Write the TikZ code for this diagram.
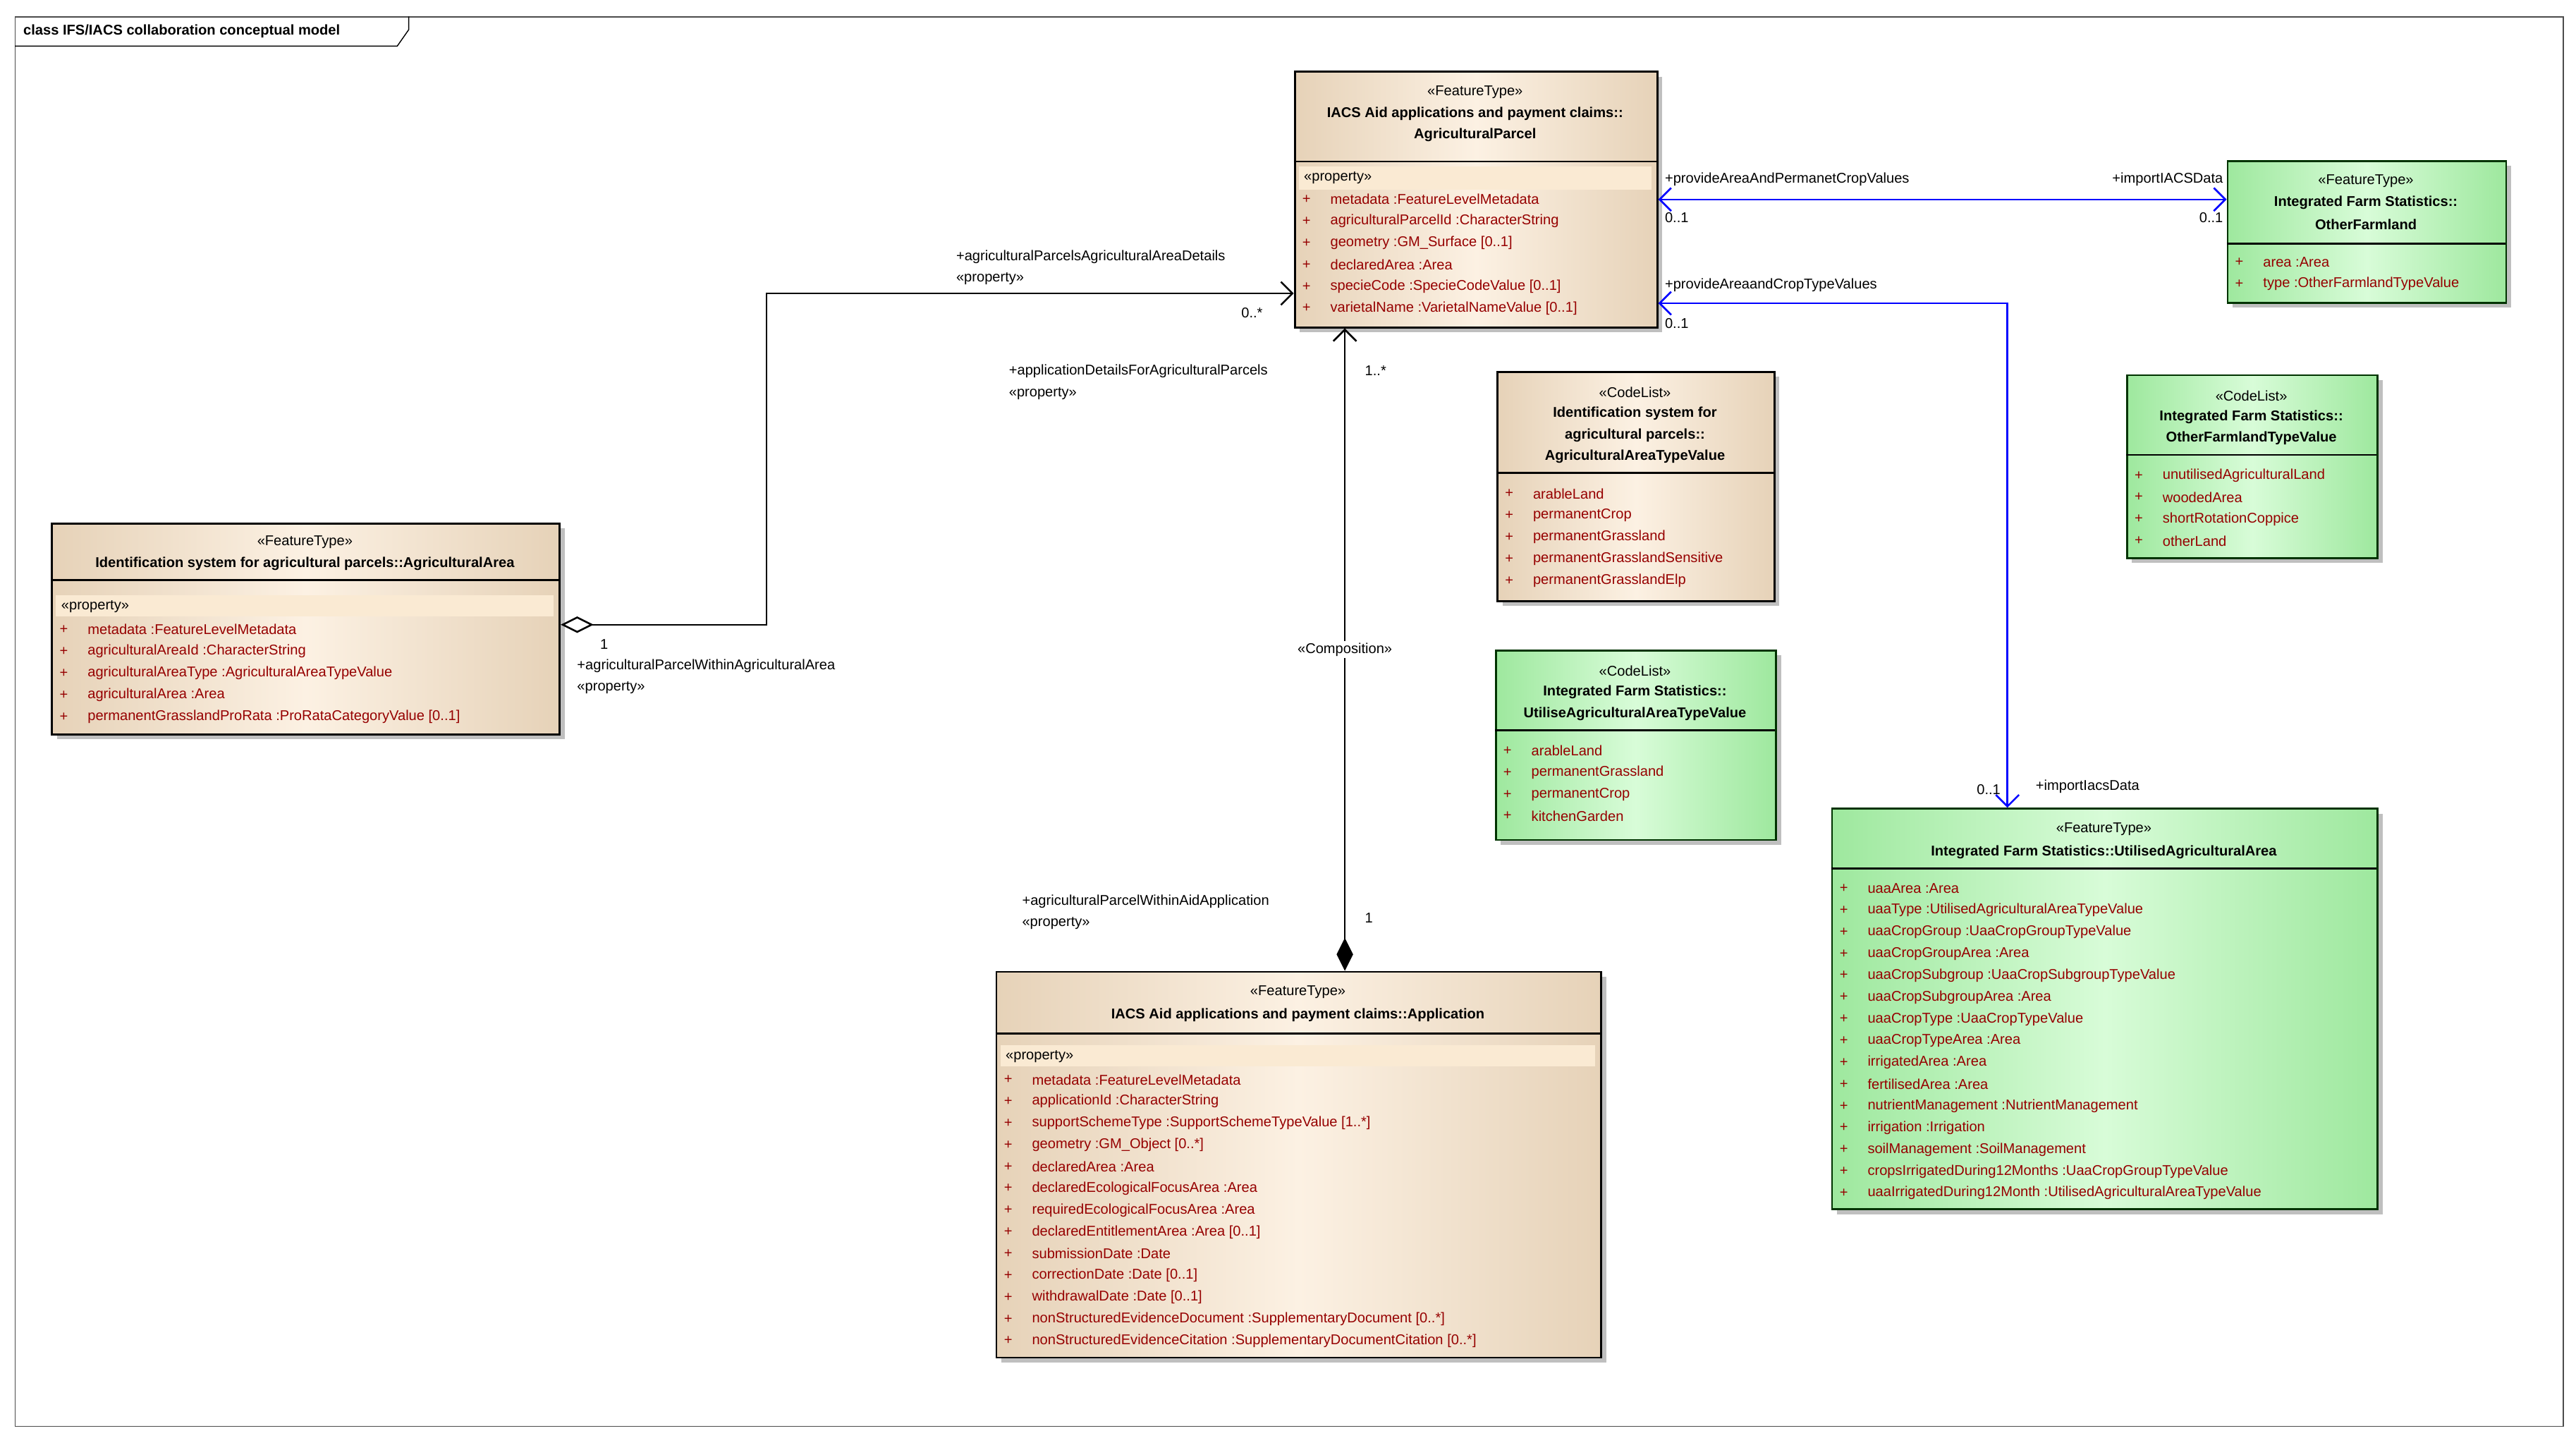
\documentclass[tikz,border=0pt]{standalone}
\usepackage{fontspec}
\setmainfont{Liberation Sans}
\usetikzlibrary{arrows.meta,shadows}
\definecolor{tanA}{HTML}{E6D2B8}
\definecolor{tanB}{HTML}{FCF1E3}
\definecolor{grA}{HTML}{9EE89E}
\definecolor{grB}{HTML}{D8FCD8}
\definecolor{attrc}{HTML}{960000}
\definecolor{band}{HTML}{FAEAD3}
\definecolor{blu}{HTML}{0000FF}
\tikzset{
 cls/.style={draw, line width=1.2pt, anchor=north west, inner sep=0pt,
   drop shadow={shadow xshift=3pt,shadow yshift=-3pt,fill=black!25,opacity=1}},
 tan/.style={cls, left color=tanA, right color=tanA, middle color=tanB},
 grn/.style={cls, left color=grA, right color=grA, middle color=grB, draw=black!80!green},
 txt/.style={font=\fontsize{8.6}{10}\selectfont, inner sep=0pt},
 lt/.style={txt, anchor=west},
 ct/.style={txt, anchor=center},
 bt/.style={txt, anchor=center, font=\fontsize{8.6}{10}\selectfont\bfseries},
 attr/.style={lt, text=attrc},
 sep/.style={line width=1.2pt},
 conn/.style={line width=1.1pt},
 bconn/.style={line width=1.1pt, draw=blu},
 vee/.tip={Straight Barb[length=7pt,width=14pt,line width=1.1pt]},
}
\newcommand\umlrows[3]{%
 \foreach \t [count=\i from 0] in {#3} {%
  \node[attr] at (#1+5, #2+\i*13.2) {+};
  \node[attr] at (#1+22, #2+\i*13.2) {\t};}}
\begin{document}
\begin{tikzpicture}[x=1pt,y=-1pt]
\useasboundingbox (0,0) rectangle (1563,872);
\fill[white] (0,0) rectangle (1563,872);
% frame
\node[draw=black!70, line width=0.6pt, anchor=north west, minimum width=1546pt, minimum height=855pt, inner sep=0] (frame) at (9,10) {};
\draw[line width=0.6pt] (9,28) -- (241,28) -- (248,18) -- (248,10);
\node[lt, font=\fontsize{8.6}{10}\selectfont\bfseries] (ftitle) at (14,19) {class IFS/IACS collaboration conceptual model};

% AgriculturalParcel
\node[tan, minimum width=220pt, minimum height=155pt] (ap) at (785,43) {};
\draw[sep] (785,98) -- (1005,98);
\fill[band] (788,101) rectangle (1002,115);
\node[ct] at (895,56) {«FeatureType»};
\node[bt] at (895,69) {IACS Aid applications and payment claims::};
\node[bt] at (895,82) {AgriculturalParcel};
\node[lt] at (791,108) {«property»};
\umlrows{785}{121}{metadata  :FeatureLevelMetadata, agriculturalParcelId  :CharacterString, geometry  :GM\_Surface [0..1], declaredArea  :Area, specieCode  :SpecieCodeValue [0..1], varietalName  :VarietalNameValue [0..1]}

% OtherFarmland
\node[grn, minimum width=169pt, minimum height=86pt] (of) at (1351,97) {};
\draw[sep] (1351,148) -- (1520,148);
\node[ct] at (1435.5,110) {«FeatureType»};
\node[bt] at (1435.5,123) {Integrated Farm Statistics::};
\node[bt] at (1435.5,136) {OtherFarmland};
\umlrows{1351}{159}{area  :Area, type  :OtherFarmlandTypeValue}

% AgriculturalArea
\node[tan, minimum width=308pt, minimum height=128pt] (aa) at (31,317) {};
\draw[sep] (31,352) -- (339,352);
\fill[band] (34,361) rectangle (336,374);
\node[ct] at (185,329) {«FeatureType»};
\node[bt] at (185,342) {Identification system for agricultural parcels::AgriculturalArea};
\node[lt] at (37,368) {«property»};
\umlrows{31}{382}{metadata  :FeatureLevelMetadata, agriculturalAreaId  :CharacterString, agriculturalAreaType  :AgriculturalAreaTypeValue, agriculturalArea  :Area, permanentGrasslandProRata  :ProRataCategoryValue [0..1]}

% AgriculturalAreaTypeValue
\node[tan, minimum width=168pt, minimum height=139pt] (aat) at (908,225) {};
\draw[sep] (908,287) -- (1076,287);
\node[ct] at (992,238) {«CodeList»};
\node[bt] at (992,251) {Identification system for};
\node[bt] at (992,264) {agricultural parcels::};
\node[bt] at (992,277) {AgriculturalAreaTypeValue};
\umlrows{908}{299.5}{arableLand, permanentCrop, permanentGrassland, permanentGrasslandSensitive, permanentGrasslandElp}

% OtherFarmlandTypeValue
\node[grn, minimum width=152pt, minimum height=111pt] (oft) at (1290,227) {};
\draw[sep] (1290,276) -- (1442,276);
\node[ct] at (1366,240) {«CodeList»};
\node[bt] at (1366,253) {Integrated Farm Statistics::};
\node[bt] at (1366,266) {OtherFarmlandTypeValue};
\umlrows{1290}{288.5}{unutilisedAgriculturalLand, woodedArea, shortRotationCoppice, otherLand}

% UtiliseAgriculturalAreaTypeValue
\node[grn, minimum width=170pt, minimum height=115pt] (uat) at (907,394) {};
\draw[sep] (907,443) -- (1077,443);
\node[ct] at (992,407) {«CodeList»};
\node[bt] at (992,420) {Integrated Farm Statistics::};
\node[bt] at (992,433) {UtiliseAgriculturalAreaTypeValue};
\umlrows{907}{455.5}{arableLand, permanentGrassland, permanentCrop, kitchenGarden}

% UtilisedAgriculturalArea
\node[grn, minimum width=331pt, minimum height=243pt] (uaa) at (1111,490) {};
\draw[sep] (1111,527) -- (1442,527);
\node[ct] at (1276.5,503) {«FeatureType»};
\node[bt] at (1276.5,517) {Integrated Farm Statistics::UtilisedAgriculturalArea};
\umlrows{1111}{539}{uaaArea  :Area, uaaType  :UtilisedAgriculturalAreaTypeValue, uaaCropGroup  :UaaCropGroupTypeValue, uaaCropGroupArea  :Area, uaaCropSubgroup  :UaaCropSubgroupTypeValue, uaaCropSubgroupArea  :Area, uaaCropType  :UaaCropTypeValue, uaaCropTypeArea  :Area, irrigatedArea  :Area, fertilisedArea  :Area, nutrientManagement  :NutrientManagement, irrigation  :Irrigation, soilManagement  :SoilManagement, cropsIrrigatedDuring12Months  :UaaCropGroupTypeValue, uaaIrrigatedDuring12Month  :UtilisedAgriculturalAreaTypeValue}

% Application
\node[tan, minimum width=367pt, minimum height=234pt] (app) at (604,589) {};
\draw[sep] (604,627) -- (971,627);
\fill[band] (607,634) rectangle (968,647);
\node[ct] at (787.5,602) {«FeatureType»};
\node[bt] at (787.5,616) {IACS Aid applications and payment claims::Application};
\node[lt] at (610,641) {«property»};
\umlrows{604}{655}{metadata  :FeatureLevelMetadata, applicationId  :CharacterString, supportSchemeType  :SupportSchemeTypeValue [1..*], geometry  :GM\_Object [0..*], declaredArea  :Area, declaredEcologicalFocusArea  :Area, requiredEcologicalFocusArea  :Area, declaredEntitlementArea  :Area [0..1], submissionDate  :Date, correctionDate  :Date [0..1], withdrawalDate  :Date [0..1], nonStructuredEvidenceDocument  :SupplementaryDocument [0..*], nonStructuredEvidenceCitation  :SupplementaryDocumentCitation [0..*]}

% aggregation AgriculturalArea -> AgriculturalParcel
\draw[conn, {Diamond[open,length=20pt,width=10pt,line width=1.1pt]}-vee] (aa.east |- 0,379) -- (465,379) -- (465,178) -- (ap.west |- 0,178);
\node[lt] at (580,156) {+agriculturalParcelsAgriculturalAreaDetails};
\node[lt] at (580,169) {«property»};
\node[lt] at (753,190) {0..*};
\node[lt] at (364,391) {1};
\node[lt] at (350,404) {+agriculturalParcelWithinAgriculturalArea};
\node[lt] at (350,417) {«property»};

% composition Application -> AgriculturalParcel
\draw[conn, vee-{Diamond[length=20pt,width=10pt]}] (ap.south -| 816,0) -- (app.north -| 816,0);
\node[lt] at (612,225) {+applicationDetailsForAgriculturalParcels};
\node[lt] at (612,239) {«property»};
\node[lt] at (828,225) {1..*};
\node[ct, fill=white, inner sep=1pt] at (816,394) {«Composition»};
\node[lt] at (620,547) {+agriculturalParcelWithinAidApplication};
\node[lt] at (620,560) {«property»};
\node[lt] at (828,557) {1};

% blue associations
\draw[bconn, vee-vee] (ap.east |- 0,121) -- (of.west |- 0,121);
\node[lt] at (1010,109) {+provideAreaAndPermanetCropValues};
\node[lt] at (1010,132) {0..1};
\node[txt, anchor=east] at (1349,109) {+importIACSData};
\node[txt, anchor=east] at (1349,132) {0..1};

\draw[bconn, vee-vee] (ap.east |- 0,184) -- (1218,184) -- (uaa.north -| 1218,0);
\node[lt] at (1010,173) {+provideAreaandCropTypeValues};
\node[lt] at (1010,196) {0..1};
\node[txt, anchor=east] at (1214,479) {0..1};
\node[lt] at (1235,477) {+importIacsData};
\end{tikzpicture}
\end{document}
